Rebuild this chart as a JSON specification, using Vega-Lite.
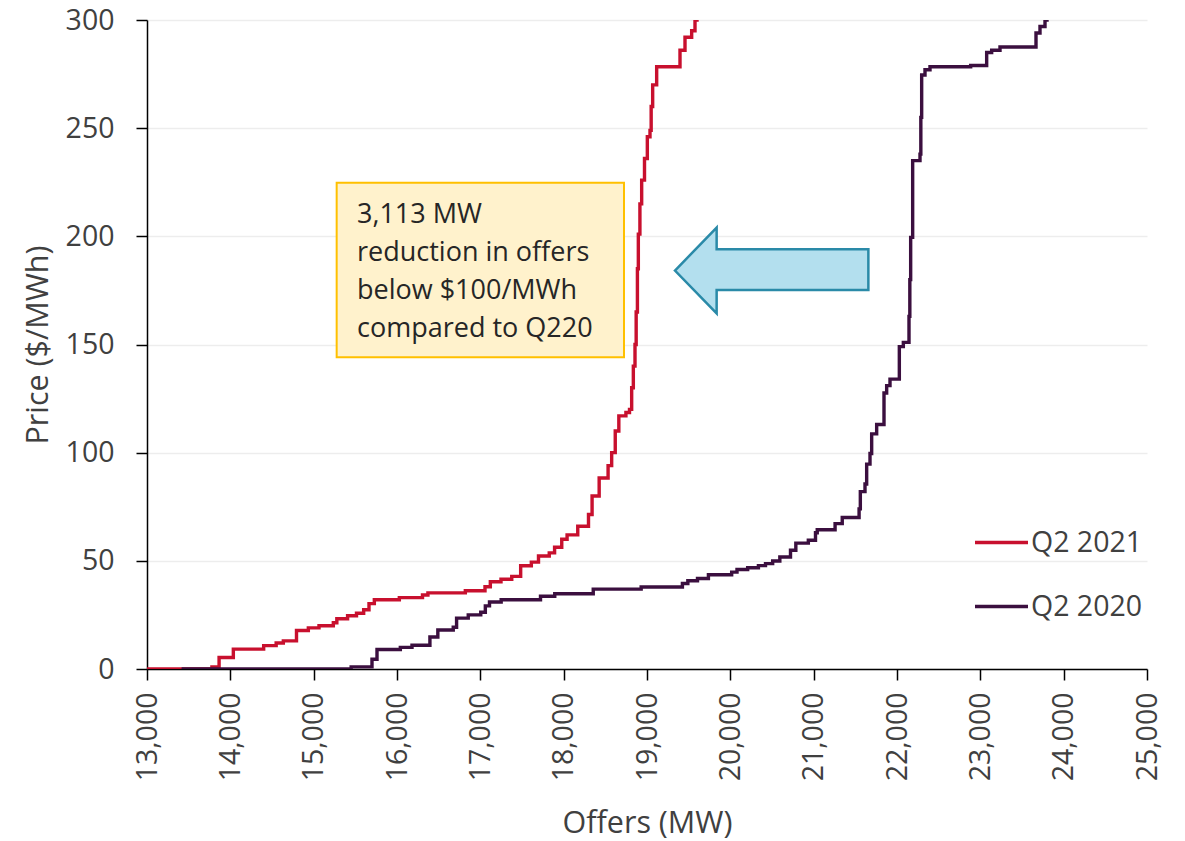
{
  "$schema": "https://vega.github.io/schema/vega-lite/v6.json",
  "width": 1000,
  "height": 649,
  "autosize": {"type": "none"},
  "padding": {"left": 147, "top": 20, "right": 38, "bottom": 172},
  "background": "white",
  "config": {
    "view": {"stroke": null},
    "font": "Open Sans",
    "axis": {
      "labelFont": "Open Sans",
      "labelFontSize": 28.5,
      "labelColor": "#404040",
      "titleFont": "Open Sans",
      "titleFontSize": 30.5,
      "titleFontWeight": "normal",
      "titleColor": "#404040",
      "domainColor": "#000000",
      "domainWidth": 1.5,
      "tickColor": "#000000",
      "tickWidth": 1.5,
      "tickSize": 11,
      "gridColor": "#EDEDED",
      "gridWidth": 1.5
    },
    "legend": {
      "orient": "none",
      "legendX": 826,
      "legendY": 494,
      "padding": 0,
      "symbolType": "stroke",
      "symbolSize": 2809,
      "symbolStrokeWidth": 3.4,
      "labelFont": "Open Sans",
      "labelFontSize": 28.5,
      "labelColor": "#404040",
      "labelOffset": 1,
      "rowPadding": 21
    }
  },
  "datasets": {
    "curves": [
      {"series": "Q2 2021", "mw": 13000, "price": 0},
      {"series": "Q2 2021", "mw": 13779, "price": 1},
      {"series": "Q2 2021", "mw": 13865, "price": 5.3},
      {"series": "Q2 2021", "mw": 14036, "price": 9.2},
      {"series": "Q2 2021", "mw": 14400, "price": 10.8},
      {"series": "Q2 2021", "mw": 14550, "price": 12},
      {"series": "Q2 2021", "mw": 14636, "price": 13},
      {"series": "Q2 2021", "mw": 14794, "price": 17.8},
      {"series": "Q2 2021", "mw": 14936, "price": 19},
      {"series": "Q2 2021", "mw": 15064, "price": 20},
      {"series": "Q2 2021", "mw": 15236, "price": 21.4},
      {"series": "Q2 2021", "mw": 15278, "price": 23.2},
      {"series": "Q2 2021", "mw": 15407, "price": 24.6},
      {"series": "Q2 2021", "mw": 15514, "price": 25.8},
      {"series": "Q2 2021", "mw": 15600, "price": 27.4},
      {"series": "Q2 2021", "mw": 15664, "price": 30.2},
      {"series": "Q2 2021", "mw": 15728, "price": 32},
      {"series": "Q2 2021", "mw": 16028, "price": 33},
      {"series": "Q2 2021", "mw": 16306, "price": 34.2},
      {"series": "Q2 2021", "mw": 16371, "price": 35.2},
      {"series": "Q2 2021", "mw": 16820, "price": 36.2},
      {"series": "Q2 2021", "mw": 17056, "price": 38},
      {"series": "Q2 2021", "mw": 17120, "price": 40.3},
      {"series": "Q2 2021", "mw": 17248, "price": 41.5},
      {"series": "Q2 2021", "mw": 17377, "price": 42.8},
      {"series": "Q2 2021", "mw": 17484, "price": 47.7},
      {"series": "Q2 2021", "mw": 17612, "price": 49.4},
      {"series": "Q2 2021", "mw": 17698, "price": 52.2},
      {"series": "Q2 2021", "mw": 17827, "price": 53.7},
      {"series": "Q2 2021", "mw": 17891, "price": 56.3},
      {"series": "Q2 2021", "mw": 17977, "price": 60},
      {"series": "Q2 2021", "mw": 18041, "price": 62},
      {"series": "Q2 2021", "mw": 18169, "price": 66},
      {"series": "Q2 2021", "mw": 18298, "price": 71.4},
      {"series": "Q2 2021", "mw": 18341, "price": 80},
      {"series": "Q2 2021", "mw": 18426, "price": 88.3},
      {"series": "Q2 2021", "mw": 18533, "price": 94},
      {"series": "Q2 2021", "mw": 18576, "price": 100},
      {"series": "Q2 2021", "mw": 18619, "price": 110},
      {"series": "Q2 2021", "mw": 18662, "price": 117},
      {"series": "Q2 2021", "mw": 18747, "price": 118.6},
      {"series": "Q2 2021", "mw": 18790, "price": 120},
      {"series": "Q2 2021", "mw": 18816, "price": 130},
      {"series": "Q2 2021", "mw": 18836, "price": 140},
      {"series": "Q2 2021", "mw": 18856, "price": 150},
      {"series": "Q2 2021", "mw": 18870, "price": 165},
      {"series": "Q2 2021", "mw": 18885, "price": 185},
      {"series": "Q2 2021", "mw": 18896, "price": 201},
      {"series": "Q2 2021", "mw": 18915, "price": 215},
      {"series": "Q2 2021", "mw": 18936, "price": 226},
      {"series": "Q2 2021", "mw": 18970, "price": 236},
      {"series": "Q2 2021", "mw": 19004, "price": 246},
      {"series": "Q2 2021", "mw": 19036, "price": 249},
      {"series": "Q2 2021", "mw": 19050, "price": 260},
      {"series": "Q2 2021", "mw": 19068, "price": 270},
      {"series": "Q2 2021", "mw": 19116, "price": 278.4},
      {"series": "Q2 2021", "mw": 19396, "price": 286},
      {"series": "Q2 2021", "mw": 19456, "price": 292},
      {"series": "Q2 2021", "mw": 19536, "price": 295},
      {"series": "Q2 2021", "mw": 19576, "price": 300},
      {"series": "Q2 2021", "mw": 19600, "price": 303},
      {"series": "Q2 2020", "mw": 13415, "price": 0},
      {"series": "Q2 2020", "mw": 15450, "price": 1},
      {"series": "Q2 2020", "mw": 15700, "price": 4.5},
      {"series": "Q2 2020", "mw": 15760, "price": 9},
      {"series": "Q2 2020", "mw": 16040, "price": 10},
      {"series": "Q2 2020", "mw": 16180, "price": 11},
      {"series": "Q2 2020", "mw": 16395, "price": 14.8},
      {"series": "Q2 2020", "mw": 16490, "price": 18},
      {"series": "Q2 2020", "mw": 16675, "price": 19.3},
      {"series": "Q2 2020", "mw": 16715, "price": 23.5},
      {"series": "Q2 2020", "mw": 16855, "price": 25},
      {"series": "Q2 2020", "mw": 17005, "price": 26.2},
      {"series": "Q2 2020", "mw": 17060, "price": 29.2},
      {"series": "Q2 2020", "mw": 17110, "price": 31},
      {"series": "Q2 2020", "mw": 17250, "price": 32},
      {"series": "Q2 2020", "mw": 17722, "price": 33.6},
      {"series": "Q2 2020", "mw": 17893, "price": 34.8},
      {"series": "Q2 2020", "mw": 18355, "price": 36.9},
      {"series": "Q2 2020", "mw": 18930, "price": 37.9},
      {"series": "Q2 2020", "mw": 19425, "price": 39.5},
      {"series": "Q2 2020", "mw": 19490, "price": 40.8},
      {"series": "Q2 2020", "mw": 19606, "price": 41.8},
      {"series": "Q2 2020", "mw": 19737, "price": 43.6},
      {"series": "Q2 2020", "mw": 20016, "price": 44.8},
      {"series": "Q2 2020", "mw": 20080, "price": 46},
      {"series": "Q2 2020", "mw": 20208, "price": 46.8},
      {"series": "Q2 2020", "mw": 20337, "price": 47.8},
      {"series": "Q2 2020", "mw": 20422, "price": 48.7},
      {"series": "Q2 2020", "mw": 20508, "price": 49.9},
      {"series": "Q2 2020", "mw": 20594, "price": 51.8},
      {"series": "Q2 2020", "mw": 20722, "price": 54.9},
      {"series": "Q2 2020", "mw": 20786, "price": 58.2},
      {"series": "Q2 2020", "mw": 20936, "price": 59.5},
      {"series": "Q2 2020", "mw": 21022, "price": 63},
      {"series": "Q2 2020", "mw": 21043, "price": 64.4},
      {"series": "Q2 2020", "mw": 21257, "price": 67.2},
      {"series": "Q2 2020", "mw": 21343, "price": 70},
      {"series": "Q2 2020", "mw": 21545, "price": 74},
      {"series": "Q2 2020", "mw": 21560, "price": 82},
      {"series": "Q2 2020", "mw": 21616, "price": 85.5},
      {"series": "Q2 2020", "mw": 21636, "price": 94.7},
      {"series": "Q2 2020", "mw": 21676, "price": 99.6},
      {"series": "Q2 2020", "mw": 21696, "price": 108.7},
      {"series": "Q2 2020", "mw": 21756, "price": 113},
      {"series": "Q2 2020", "mw": 21844, "price": 127.6},
      {"series": "Q2 2020", "mw": 21876, "price": 131},
      {"series": "Q2 2020", "mw": 21916, "price": 134},
      {"series": "Q2 2020", "mw": 22028, "price": 149},
      {"series": "Q2 2020", "mw": 22076, "price": 151},
      {"series": "Q2 2020", "mw": 22144, "price": 163},
      {"series": "Q2 2020", "mw": 22154, "price": 180},
      {"series": "Q2 2020", "mw": 22164, "price": 199.5},
      {"series": "Q2 2020", "mw": 22188, "price": 235},
      {"series": "Q2 2020", "mw": 22276, "price": 238},
      {"series": "Q2 2020", "mw": 22286, "price": 255},
      {"series": "Q2 2020", "mw": 22296, "price": 274.6},
      {"series": "Q2 2020", "mw": 22336, "price": 277},
      {"series": "Q2 2020", "mw": 22396, "price": 278.4},
      {"series": "Q2 2020", "mw": 22884, "price": 279},
      {"series": "Q2 2020", "mw": 23076, "price": 285},
      {"series": "Q2 2020", "mw": 23136, "price": 286},
      {"series": "Q2 2020", "mw": 23236, "price": 287.5},
      {"series": "Q2 2020", "mw": 23668, "price": 294},
      {"series": "Q2 2020", "mw": 23716, "price": 297},
      {"series": "Q2 2020", "mw": 23776, "price": 300},
      {"series": "Q2 2020", "mw": 23800, "price": 303}
    ],
    "box": [
      {"mw1": 15276, "mw2": 18724, "p1": 144.1, "p2": 224.8}
    ],
    "note": [
      {"mw": 15520, "price": 206.2, "text": ["3,113 MW", "reduction in offers", "below $100/MWh", "compared to Q220"]}
    ],
    "arrow": [
      {"mw": 20496, "price": 184.2}
    ]
  },
  "layer": [
    {
      "data": {"name": "box"},
      "mark": {"type": "rect", "fill": "#FFF2CC", "stroke": "#FFC000", "strokeWidth": 2},
      "encoding": {
        "x": {"field": "mw1", "type": "quantitative", "title": "Offers (MW)", "scale": {"domain": [13000, 25000], "nice": false, "zero": false}},
        "x2": {"field": "mw2"},
        "y": {"field": "p1", "type": "quantitative", "title": "Price ($/MWh)", "scale": {"domain": [0, 300], "nice": false}},
        "y2": {"field": "p2"}
      }
    },
    {
      "data": {"name": "curves"},
      "mark": {"type": "line", "interpolate": "step-after", "strokeWidth": 3.4, "clip": true},
      "encoding": {
        "x": {
          "field": "mw", "type": "quantitative", "title": "Offers (MW)",
          "scale": {"domain": [13000, 25000], "nice": false, "zero": false},
          "axis": {
            "values": [13000, 14000, 15000, 16000, 17000, 18000, 19000, 20000, 21000, 22000, 23000, 24000, 25000],
            "format": ",.0f",
            "labelAngle": -90,
            "labelPadding": 12,
            "grid": false,
            "titlePadding": 28
          }
        },
        "y": {
          "field": "price", "type": "quantitative", "title": "Price ($/MWh)",
          "scale": {"domain": [0, 300], "nice": false},
          "axis": {
            "values": [0, 50, 100, 150, 200, 250, 300],
            "format": "d",
            "labelPadding": 22,
            "grid": true,
            "titlePadding": 12
          }
        },
        "color": {
          "field": "series", "type": "nominal", "title": null,
          "scale": {"domain": ["Q2 2021", "Q2 2020"], "range": ["#C8102E", "#3B0F3F"]},
          "legend": {"orient": "none", "title": null}
        }
      }
    },
    {
      "data": {"name": "note"},
      "mark": {"type": "text", "align": "left", "baseline": "alphabetic", "font": "Open Sans", "fontSize": 27, "lineHeight": 38, "color": "#262626"},
      "encoding": {
        "x": {"field": "mw", "type": "quantitative", "title": "Offers (MW)"},
        "y": {"field": "price", "type": "quantitative", "title": "Price ($/MWh)"},
        "text": {"field": "text"}
      }
    },
    {
      "data": {"name": "arrow"},
      "mark": {
        "type": "point",
        "shape": "M-1,0 L-0.569,-0.443 L-0.569,-0.219 L1,-0.219 L1,0.202 L-0.569,0.202 L-0.569,0.443 Z",
        "size": 37404,
        "filled": true,
        "fill": "#B3DFEE",
        "stroke": "#2A8AA8",
        "strokeWidth": 2.5,
        "opacity": 1
      },
      "encoding": {
        "x": {"field": "mw", "type": "quantitative", "title": "Offers (MW)"},
        "y": {"field": "price", "type": "quantitative", "title": "Price ($/MWh)"}
      }
    }
  ]
}
